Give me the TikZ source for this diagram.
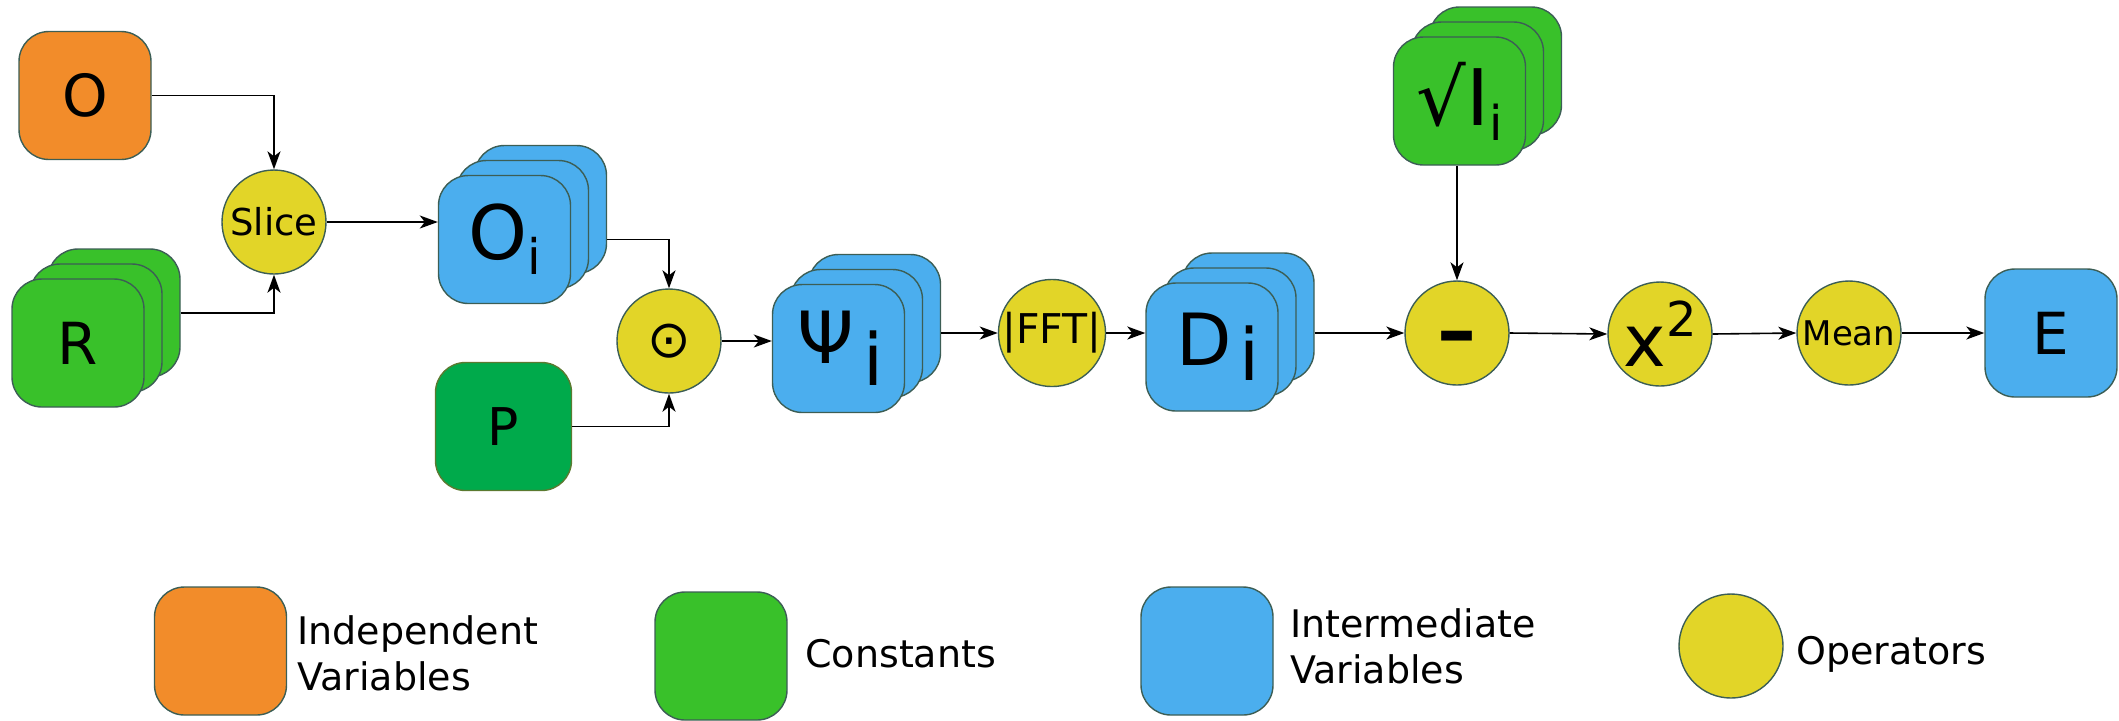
\documentclass[tikz,border=0pt]{standalone}
\usepackage{fontspec}
\setmainfont{DejaVu Sans}
\usetikzlibrary{arrows.meta}
\definecolor{cOrange}{HTML}{F28C2A}
\definecolor{cGreen}{HTML}{39C12A}
\definecolor{cPGreen}{HTML}{00AA4B}
\definecolor{cBlue}{HTML}{4BAEEE}
\definecolor{cYellow}{HTML}{E2D528}
\definecolor{cEdge}{HTML}{3C5E55}
\definecolor{cPEdge}{HTML}{5A7A30}
\newcommand\fs[1]{\fontsize{#1}{#1}\selectfont}
\newcommand\subi[2]{\raisebox{-#2}{\fs{#1}i}}
\begin{document}
\begin{tikzpicture}[x=0.5pt,y=-0.5pt,
 box/.style={draw=cEdge, line width=0.7pt, rounded corners=15pt, minimum width=66pt, minimum height=64pt, inner sep=0pt},
 indep/.style={box, fill=cOrange},
 const/.style={box, fill=cGreen},
 inter/.style={box, fill=cBlue},
 op/.style={circle, draw=cEdge, fill=cYellow, line width=0.7pt, minimum size=52pt, inner sep=0pt},
 arr/.style={-{Stealth[length=9pt,width=6.5pt,inset=2.5pt]}, line width=0.8pt},
 legtext/.style={anchor=west, align=left, inner sep=0pt, font=\fontsize{19pt}{23pt}\selectfont},
]
\useasboundingbox (0,0) rectangle (2119,720);

% independent variable
\node[indep] (O) at (85,95.5) {\fs{29pt}O};
% R stack
\node[const] (Rb) at (114,313) {};
\node[const] (Rm) at (96,328) {};
\node[const] (R) at (78,343) {\fs{29pt}R};
% slice
\node[op] (slice) at (274,222) {\fs{18.5pt}Slice};
% Oi stack
\node[inter] (Oib) at (540.5,209.5) {};
\node[inter] (Oim) at (522.5,224.5) {};
\node[inter] (Oi) at (504.5,239.5) {\fs{37.5pt}O\subi{24.5pt}{7.5pt}};
% P
\node[box, fill=cPGreen, draw=cPEdge, minimum width=68pt] (P) at (503.5,426.5) {\fs{26pt}P};
% odot
\node[op] (odot) at (669,341) {\fs{26pt}⊙};
% Psi stack
\node[inter] (Psib) at (874.5,318.5) {};
\node[inter] (Psim) at (856.5,333.5) {};
\node[inter] (Psi) at (838.5,348.5) {\hspace*{2pt}\fs{36pt}Ψ\kern5pt\subi{36pt}{11pt}};
% FFT
\node[op] (fft) at (1052,333) {\fs{20.5pt}|FFT|};
% D stack
\node[inter] (Db) at (1248,317) {};
\node[inter] (Dm) at (1230,332) {};
\node[inter] (D) at (1212,347) {\hspace*{6pt}\fs{36pt}D\kern4pt\subi{36pt}{7.5pt}};
% sqrt I stack
\node[const] (sqIb) at (1495.5,71) {};
\node[const] (sqIm) at (1477.5,86) {};
\node[const] (sqI) at (1459.5,101) {\fs{39pt}√I\subi{24pt}{7.5pt}};
% operators
\node[op, text height=24pt, text depth=0pt] (minus) at (1457,333) {\bfseries\fs{39pt}–};
\node[op] (xsq) at (1660,334) {\fs{36pt}x\raisebox{15pt}{\fs{24pt}2}};
\node[op] (mean) at (1849,333) {\fs{17pt}Mean};
\node[inter] (E) at (2051,333) {\fs{29pt}E};

% connectors
\draw[arr] (O.east) -| (slice.north);
\draw[arr] (Rb.east) -| (slice.south);
\draw[arr] (slice.east) -- (slice.east -| Oi.west);
\draw[arr] (Oib.east |- Oi.east) -| (odot.north);
\draw[arr] (P.east) -| (odot.south);
\draw[arr] (odot.east) -- (odot.east -| Psi.west);
\draw[arr] (Psib.east |- fft.west) -- (fft.west);
\draw[arr] (fft.east) -- (fft.east -| D.west);
\draw[arr] (Db.east |- minus.west) -- (minus.west);
\draw[arr] (sqI.south -| minus.north) -- (minus.north);
\draw[arr] (minus.east) -- (xsq.west);
\draw[arr] (xsq.east) -- (mean.west);
\draw[arr] (mean.east) -- (mean.east -| E.west);

% legend
\node[indep] (LO) at (220.5,651) {};
\node[legtext] (LOt) at (297,653) {Independent\\Variables};
\node[const] (LC) at (721,656) {};
\node[legtext] (LCt) at (805,654) {Constants};
\node[inter] (LI) at (1207,651) {};
\node[legtext] (LIt) at (1290,646) {Intermediate\\Variables};
\node[op] (LP) at (1731,646) {};
\node[legtext] (LPt) at (1796,654) {Operators};
\end{tikzpicture}
\end{document}
